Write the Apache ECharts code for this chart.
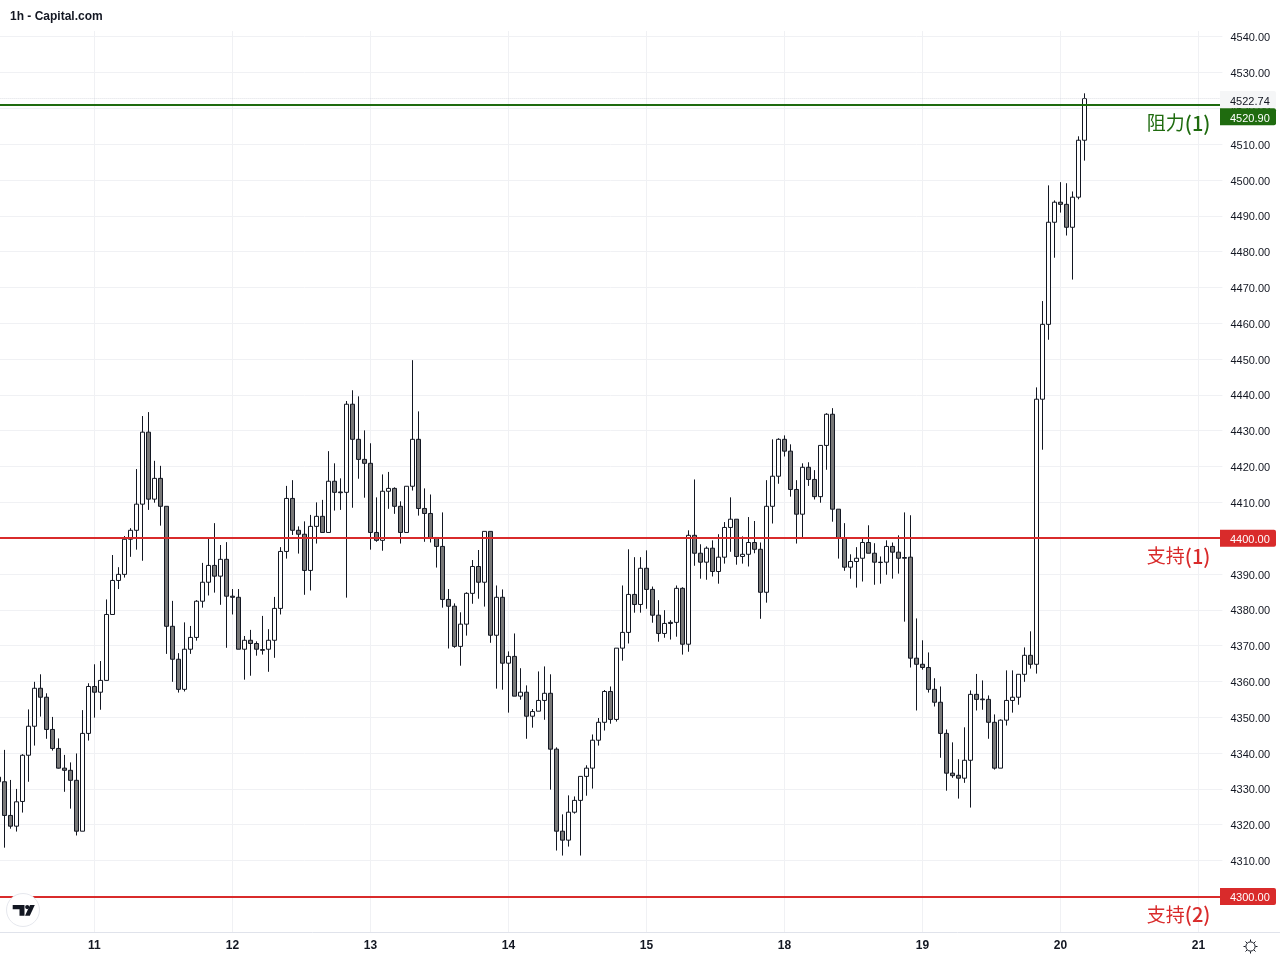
<!DOCTYPE html>
<html>
<head>
<meta charset="utf-8">
<style>html,body{margin:0;padding:0;background:#fff;overflow:hidden}#c{position:absolute;left:-10px;top:0;width:1290px;height:960px}</style>
<script src="https://cdn.jsdelivr.net/npm/echarts@6/dist/echarts.min.js"></script>
</head>
<body>
<div id="c"></div>
<script>
// hourly candles, left to right
const opens = [
4332,4332,4322.6,4319.6,4326.5,4339.4,4347.5,4358.1,4355.6,4346.6,
4341.3,4335.8,4335.2,4332.4,4318.2,4345.5,4358.6,4357,4360.3,4378.7,
4388.2,4389.9,4399.7,4402.2,4409.5,4429.6,4410.9,4416.7,4408.9,4375.4,
4366.2,4357.8,4369,4372.3,4382.4,4387.7,4392.4,4389.4,4394.1,4383.8,
4383.5,4369,4371.5,4370.6,4368.9,4369,4371.5,4380.4,4396.3,4411.1,
4402.2,4401.1,4391,4403.3,4406.1,4401.6,4415.9,4412.9,4412.8,4437.4,
4427.6,4422,4420.9,4401.6,4399.4,4413.1,4413.9,4408.9,4401.6,4414.5,
4427.6,4408.3,4406.9,4400.2,4397.7,4382.9,4381,4369.8,4376,4384.6,
4392.1,4387.7,4401.9,4372.9,4383.5,4365.1,4367,4355.9,4357,4350.3,
4351.7,4354.7,4356.7,4341.1,4318.2,4315.7,4323.5,4326.8,4333.5,4335.8,
4343.6,4348.6,4357.2,4349.4,4369.3,4373.7,4384.3,4381.5,4391.6,4385.7,
4378.5,4373.4,4376.5,4376.5,4386,4370.4,4400.8,4395.8,4393.3,4397.2,
4390.7,4394.7,4403,4405.3,4394.9,4395.5,4398.8,4396.9,4384.9,4408.9,
4417.3,4427.6,4424.3,4413.6,4406.7,4419.8,4416.4,4411.6,4425.9,4434.6,
4408.1,4400,4391.9,4393.5,4394.4,4398.8,4395.8,4393.3,4393.3,4397.7,
4396.1,4394.6,4394.7,4366.5,4364.8,4363.9,4357.8,4354.2,4345.5,4334.4,
4333.8,4333,4338,4356.4,4355.1,4355,4348.6,4335.8,4349.2,4354.7,
4355.6,4362,4367.3,4364.8,4438.8,4459.7,4488.2,4493.8,4493.2,4486.8,
4495.2,4511.1];
const closes = [
4333.3,4322.6,4319.6,4326.4,4339.4,4347.5,4358.1,4355.6,4346.6,4341.3,
4335.8,4335.2,4332.4,4318.2,4345.5,4358.6,4357,4360.3,4378.7,4388.2,
4389.9,4399.7,4402.2,4409.5,4429.6,4410.9,4416.7,4408.9,4375.4,4366.2,
4357.8,4369,4372.3,4382.4,4387.7,4392.4,4389.4,4394.1,4383.8,4383.5,
4369,4371.5,4370.6,4369,4368.7,4371.5,4380.4,4396.3,4411.1,4402.2,
4401.1,4391,4403.3,4406.1,4401.6,4415.9,4412.8,4412.7,4437.4,4427.6,
4422,4420.9,4401.6,4399.4,4413.1,4413.9,4408.9,4401.6,4414.5,4427.6,
4408.3,4406.9,4400.2,4397.7,4382.9,4381,4369.8,4376,4384.6,4392.1,
4387.7,4401.9,4372.9,4383.5,4365.1,4367,4355.9,4357,4350.3,4351.6,
4354.7,4356.7,4341.1,4318.2,4315.7,4323.5,4326.8,4333.5,4335.8,4343.6,
4348.6,4357.2,4349.4,4369.3,4373.7,4384.3,4381.5,4391.6,4385.7,4378.5,
4373.4,4376.2,4376.2,4386,4370.4,4400.8,4395.8,4393.3,4397.2,4390.7,
4394.7,4403,4405.3,4394.9,4395.5,4398.8,4396.9,4384.9,4408.9,4417.3,
4427.6,4424.3,4413.6,4406.7,4419.8,4416.4,4411.6,4425.9,4434.6,4408.1,
4400,4391.9,4393.5,4394.4,4398.8,4395.8,4393.3,4393.2,4397.7,4396.1,
4394.4,4394.4,4366.5,4364.8,4363.9,4357.8,4354.2,4345.5,4334.4,4333.7,
4333,4338,4356.4,4355,4354.9,4348.6,4335.8,4349.2,4354.7,4355.6,
4362,4367.3,4364.8,4438.8,4459.7,4488.2,4493.8,4493.2,4486.8,4495.2,
4511.1,4522.74];
const lows = [
4325,4313.6,4318.9,4318.1,4323.4,4332,4342.1,4350.2,4344,4340.7,
4335.7,4329.2,4324.5,4317,4318.2,4343.5,4349.9,4352.1,4360.3,4378.7,
4385.8,4389,4394.8,4396.8,4393.7,4407.9,4409.9,4403.5,4367.7,4359.9,
4356.9,4357.2,4367.7,4371.4,4380.6,4384,4384.8,4381.4,4369.4,4378.7,
4369,4360.5,4361.6,4367.2,4367.5,4362.7,4366.6,4378.7,4394.3,4400.9,
4395.7,4384.2,4385.4,4398.5,4401.6,4401.6,4407.7,4407.9,4383.4,4408.5,
4416.6,4411.3,4396.8,4399,4396.5,4408.2,4406.8,4398.5,4401.6,4413.3,
4406.3,4399,4398.8,4391.8,4380.6,4369.2,4369.4,4364.4,4372.8,4381.7,
4383.1,4380.9,4370.8,4358,4357.7,4351.3,4355.9,4354.9,4344,4347.1,
4351.7,4349.3,4329.8,4312.8,4311.4,4313.9,4323.1,4311.4,4328.1,4330.1,
4342.1,4346.3,4348.2,4348.8,4365.8,4370.6,4379.2,4379.2,4380.3,4376.4,
4371.1,4372.2,4371.7,4372.5,4367.5,4368.3,4392.3,4388.7,4388.4,4389.3,
4387.3,4392.9,4396.2,4392.6,4392.9,4392.1,4395.8,4377.5,4382,4404.1,
4415.2,4422.8,4411.6,4398.5,4400.2,4414.6,4410.8,4409.9,4419.1,4404.6,
4394.3,4390.9,4388.7,4386.2,4387.9,4395.8,4387,4387.3,4389.8,4388.7,
4390.1,4376.7,4363.9,4351.9,4363.3,4356.9,4353,4338.7,4329.5,4333.1,
4327.3,4331.7,4324.8,4351.9,4352.1,4344,4335.4,4335.8,4347.7,4351.3,
4353.5,4359.9,4363.6,4362.2,4424.7,4455.4,4478.3,4490.9,4484.5,4472.2,
4494.6,4505.4];
const highs = [
4333.3,4340.9,4332.5,4330,4339.7,4352.2,4359.9,4362,4356.7,4350.1,
4344.1,4339.5,4337.4,4339.9,4352,4359.5,4364.8,4365.7,4382.9,4395.3,
4391.9,4400.6,4402.8,4419.3,4434.1,4435.2,4421.6,4420.2,4408.9,4382.5,
4367.9,4376.5,4375.5,4382.7,4393.1,4400,4404.2,4398.1,4398.9,4385.8,
4385.8,4372.7,4374.4,4371.2,4378.3,4374.6,4383.6,4397.5,4414.6,4416.2,
4403.3,4404.7,4406.5,4410,4410.7,4424.3,4420.9,4416.7,4438.3,4441.3,
4439.6,4430.1,4426.5,4411.4,4417.8,4418.5,4414.2,4410.3,4414.5,4449.7,
4435.4,4413.9,4412.2,4400.2,4407.2,4385.8,4381.8,4379.3,4384.9,4393.9,
4396.7,4401.9,4401.9,4386.8,4385.7,4368.4,4373.4,4363.7,4358.9,4352.3,
4362.8,4364.2,4362,4341.6,4322.9,4328.2,4327.9,4333.5,4336.6,4345.2,
4349.8,4357.6,4358.6,4369.3,4386.8,4396.9,4394.7,4394.7,4396.6,4386.5,
4382.7,4379.9,4377.1,4386.8,4386.3,4402.2,4416.4,4398.3,4397.7,4399.4,
4401.1,4404.5,4411.4,4405.3,4400.5,4405.9,4404.8,4398.8,4416.2,4427.6,
4427.9,4428.7,4426.2,4416.2,4420.9,4421.2,4419,4425.9,4434.9,4436.3,
4408.1,4404.2,4395.5,4397.5,4400.3,4403.6,4398.6,4394.9,4399.4,4398.8,
4400.8,4407.2,4406.4,4377.6,4371.5,4368.1,4360.9,4358.6,4346.6,4343,
4338.3,4347.2,4357.5,4362.1,4360.3,4356.1,4350.8,4349.4,4363.1,4363.1,
4362,4369.5,4374,4442.1,4466.2,4498.5,4494.3,4499.4,4499.1,4496.8,
4512.2,4524.2];

// day labels on the time axis: first one falls on bar 16, then every 23 hourly bars
const dayLabels = ['11','12','13','14','15','18','19','20','21'];
const firstDayBar = 16, barsPerDay = 23, slotCount = 205;
const categories = Array.from({length: slotCount}, (_, i) => {
  const d = (i - firstDayBar) / barsPerDay;
  return Number.isInteger(d) && d >= 0 && d < dayLabels.length ? dayLabels[d] : '';
});
const candleData = opens.map((o, i) => [o, closes[i], lows[i], highs[i]]);

// horizontal levels
const resistanceLevel = 4520.90, lastPrice = 4522.74;
const support1 = 4400, support2 = 4300;
const levelNames = {r1: ['阻力', '(1)'], s1: ['支持', '(1)'], s2: ['支持', '(2)']};

const GREEN = '#1f6b0f', RED = '#d92b2b', INK = '#131722';
const FONT = '"Liberation Sans", Arial, sans-serif';
const CJK = '"Noto Sans CJK SC", sans-serif';

function levelLine(v, color, name) {
  return {
    yAxis: v,
    lineStyle: {color, width: 2, type: 'solid'},
    label: {show: true, position: 'insideEndBottom', formatter: '{a|' + name[0] + '}{b|' + name[1] + '}',
      distance: 9, offset: [-3, -1],
      rich: {
        a: {color, fontFamily: CJK, fontSize: 19, fontWeight: 400},
        b: {color, fontFamily: CJK, fontSize: 20, fontWeight: 500}
      }}
  };
}
function priceTag(v, color, textColor, text, dy) {
  return {
    yAxis: v,
    lineStyle: {width: 0, color: 'transparent'},
    label: {show: true, position: 'end', formatter: '{t|' + text + '}',
      backgroundColor: color, width: 46, align: 'left',
      padding: [3, 0, 1, 10], borderRadius: [0, 2, 2, 0],
      distance: 0, offset: [-2.4, dy],
      rich: {t: {color: textColor, fontFamily: FONT, fontSize: 11, padding: [2, 0, 0, 0]}}}
  };
}
const sunRays = [[1250.5,939.5,1250.5,941.5],[1250.5,951.5,1250.5,953.5],[1243.5,946.5,1245.5,946.5],[1255.5,946.5,1257.5,946.5],
  [1245.5,941.5,1247,943],[1254,950,1255.5,951.5],[1245.5,951.5,1247,950],[1254,943,1255.5,941.5]];

const chart = echarts.init(document.getElementById('c'), null, {renderer: 'canvas'});
chart.setOption({
  animation: false,
  backgroundColor: '#ffffff',
  title: {text: '1h - Capital.com', left: 15, top: 6,
    textStyle: {fontFamily: FONT, fontSize: 12, fontWeight: 'bold', color: INK}},
  grid: {left: 8.4, right: 57.6, top: 0.9, height: 931.3, containLabel: false},
  xAxis: {
    type: 'category', data: categories, boundaryGap: false,
    axisLine: {show: false}, axisTick: {show: false},
    axisLabel: {interval: (i, v) => v !== '', color: INK, fontFamily: FONT,
      fontSize: 12, fontWeight: 'bold', margin: 7},
    splitLine: {show: true, interval: (i, v) => v !== '',
      lineStyle: {color: '#f0f1f4', width: 1}}
  },
  yAxis: {
    type: 'value', position: 'right', min: 4290, max: 4550, interval: 10, scale: true,
    axisLine: {show: false}, axisTick: {show: false},
    axisLabel: {color: INK, fontFamily: FONT, fontSize: 11, margin: 8,
      showMinLabel: false, showMaxLabel: false,
      formatter: v => '{t|' + v.toFixed(2) + '}',
      rich: {t: {color: INK, fontFamily: FONT, fontSize: 11, padding: [3, 0, 0, 0]}}},
    splitLine: {show: true, showMinLine: false, showMaxLine: false,
      lineStyle: {color: '#f0f1f4', width: 1}}
  },
  series: [
    {
      type: 'line', data: [], z: 1, silent: true, symbol: 'none',
      markLine: {
        silent: true, symbol: 'none', animation: false,
        data: [
          {yAxis: lastPrice, lineStyle: {color: '#c8ccd4', width: 1, type: 'dotted', opacity: .6}, label: {show: false}},
          levelLine(resistanceLevel, GREEN, levelNames.r1),
          levelLine(support1, RED, levelNames.s1),
          levelLine(support2, RED, levelNames.s2),
          priceTag(lastPrice, '#f5f6f7', INK, lastPrice.toFixed(2), 1),
          priceTag(resistanceLevel, GREEN, '#ffffff', resistanceLevel.toFixed(2), 11.5),
          priceTag(support1, RED, '#ffffff', support1.toFixed(2), 0),
          priceTag(support2, RED, '#ffffff', support2.toFixed(2), 0)
        ]
      }
    },
    {
      type: 'candlestick', data: candleData, z: 3, barWidth: 4, silent: true,
      large: false, progressive: 0,
      itemStyle: {color: '#ffffff', color0: '#777777', borderColor: INK, borderColor0: INK, borderWidth: 1}
    }
  ],
  graphic: [{
    type: 'group', x: 10, y: 0,
    children: [
      {type: 'rect', silent: true, shape: {x: -10, y: 0, width: 1290, height: 31}, style: {fill: '#fff'}, z: 1},
      {type: 'line', silent: true, shape: {x1: -10, y1: 932.5, x2: 1280, y2: 932.5}, style: {stroke: '#e0e3eb', lineWidth: 1}, z: 5},
      {type: 'circle', silent: true, shape: {cx: 23, cy: 910, r: 16.5}, style: {fill: '#fff', stroke: '#e6e8ee', lineWidth: 1}, z: 6},
      {type: 'polygon', silent: true, shape: {points: [[12.7,905],[24.5,905],[24.5,915.7],[19.5,915.7],[19.5,909.2],[12.7,909.2]]}, style: {fill: INK}, z: 7},
      {type: 'circle', silent: true, shape: {cx: 27.2, cy: 907.1, r: 2.1}, style: {fill: INK}, z: 7},
      {type: 'polygon', silent: true, shape: {points: [[30,905],[34.8,905],[29.8,915.7],[25,915.7]]}, style: {fill: INK}, z: 7},
      {type: 'circle', silent: true, shape: {cx: 1250.5, cy: 946.5, r: 4.6}, style: {fill: '#fff', stroke: INK, lineWidth: 1}, z: 7}
    ].concat(sunRays.map(r => ({type: 'line', silent: true, shape: {x1: r[0], y1: r[1], x2: r[2], y2: r[3]}, style: {stroke: INK, lineWidth: 1}, z: 7})))
  }]
});
</script>
</body>
</html>
